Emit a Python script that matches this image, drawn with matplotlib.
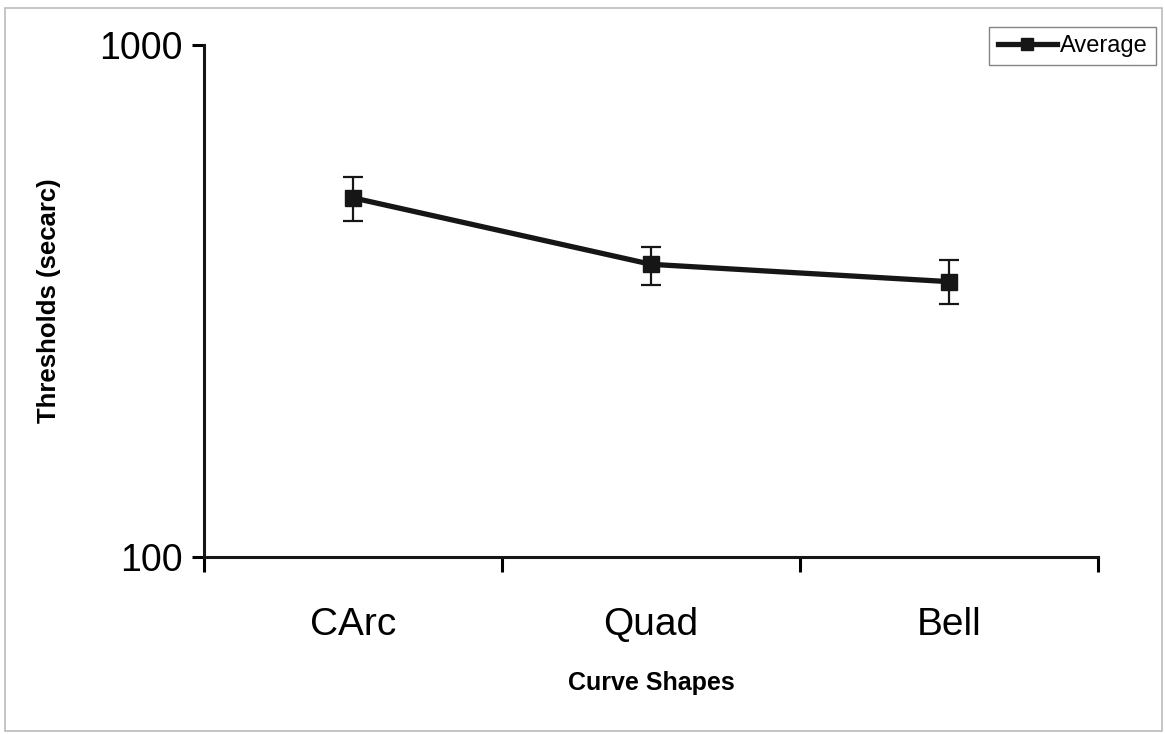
import matplotlib.pyplot as plt
from matplotlib.patches import Rectangle

plt.rcParams['font.family'] = ['Liberation Sans', 'DejaVu Sans']

# data
shapes = ['CArc', 'Quad', 'Bell']
average = [503, 373, 345]
err_high = [553, 404, 380]
err_low = [453, 340, 312]

yerr = [[a - lo for a, lo in zip(average, err_low)],
        [hi - a for a, hi in zip(average, err_high)]]
xpos = list(range(len(shapes)))

fig = plt.figure(figsize=(11.65, 7.34), dpi=100)
ax = fig.add_axes([0.175, 0.2411, 0.7675, 0.6976])

# error bars first, then the line with markers on top (legend only shows the line)
ax.errorbar(xpos, average, yerr=yerr, fmt='none', ecolor='#161616',
            elinewidth=1.6, capsize=7, capthick=1.6)
ax.plot(xpos, average, color='#161616', linewidth=3.8, marker='s',
        markersize=12, label='Average')

ax.set_yscale('log')
ax.set_ylim(100, 1000)
ax.set_yticks([100, 1000])
ax.set_yticklabels(['100', '1000'])
ax.yaxis.set_minor_locator(plt.NullLocator())
ax.set_xlim(-0.5, 2.5)
ax.set_xticks([-0.5, 0.5, 1.5, 2.5])
ax.set_xticklabels([])
ax.set_xticks(xpos, minor=True)
ax.set_xticklabels(shapes, minor=True)

ax.tick_params(axis='y', which='major', labelsize=27, width=2.2, length=9, direction='out', pad=6)
ax.tick_params(axis='x', which='major', width=2.2, length=11, direction='out')
ax.tick_params(axis='x', which='minor', labelsize=28, length=0, pad=36)

for s in ['top', 'right']:
    ax.spines[s].set_visible(False)
for s in ['left', 'bottom']:
    ax.spines[s].set_linewidth(2.2)
    ax.spines[s].set_color('#161616')

ax.set_ylabel('Thresholds (secarc)', fontsize=18.5, fontweight='bold', labelpad=28)
ax.set_xlabel('Curve Shapes', fontsize=18, fontweight='bold', labelpad=20)

leg = ax.legend(loc='upper right', bbox_to_anchor=(1.065, 1.036), fontsize=17,
                frameon=True, fancybox=False, edgecolor='#666666',
                handlelength=2.5, handletextpad=0.15, borderpad=0.35,
                borderaxespad=0, markerscale=0.75)
leg.get_frame().set_linewidth(1.0)

fig.patches.append(Rectangle((0.004, 0.004), 0.993, 0.985, transform=fig.transFigure,
                             fill=False, edgecolor='#bbbbbb', linewidth=1.2))

fig.savefig('out.png', dpi=100)
